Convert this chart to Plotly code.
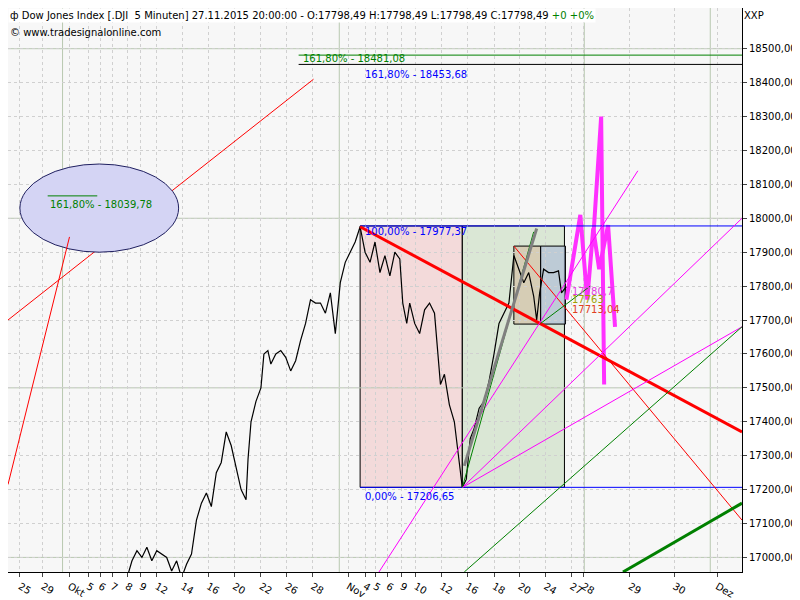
import plotly.graph_objects as go

# x is a bar index (roughly pixel-spaced), y is the index level
price_x = [120, 125, 130, 135, 140, 145, 150, 160, 165, 170, 175, 180, 185, 190, 195, 200, 205, 210, 215, 220,
           225, 230, 235, 240, 242, 245, 250, 255, 258, 262, 265, 270, 275, 280, 285, 290, 295, 300, 305, 310,
           315, 320, 325, 330, 335, 340, 345, 350, 355, 360, 365, 370, 375, 380, 385, 390, 395, 398, 402, 405,
           410, 415, 420, 425, 430, 433, 436, 440, 445, 450, 455, 458, 462, 466, 470, 475, 480, 485, 490, 495,
           500, 505, 510, 515, 520, 525, 530, 533, 536, 540, 545, 550, 555, 558, 562, 565]
price_y = [16940, 16990, 17020, 17000, 17030, 16990, 17020, 17000, 16960, 16990, 16940, 16980, 17010, 17110, 17160, 17190, 17150, 17250, 17280, 17370,
           17330, 17260, 17200, 17170, 17290, 17400, 17460, 17500, 17600, 17610, 17570, 17600, 17610, 17590, 17550, 17580, 17640, 17690, 17760, 17750,
           17750, 17720, 17780, 17660, 17810, 17870, 17900, 17930, 17975, 17900, 17870, 17930, 17840, 17890, 17830, 17900, 17880, 17750, 17690, 17750,
           17690, 17660, 17730, 17750, 17720, 17600, 17510, 17540, 17450, 17400, 17280, 17206, 17230, 17350, 17380, 17440, 17460, 17520, 17600, 17690,
           17720, 17750, 17890, 17850, 17810, 17840, 17770, 17700, 17780, 17850, 17840, 17840, 17845, 17780, 17795, 17798]

proj_x = [563, 570, 577, 584, 590, 596, 605, 612]
proj_y = [17760, 17880, 18010, 17760, 17970, 17850, 17980, 17680]
proj2_x = [590, 598, 601]
proj2_y = [17940, 18300, 17510]

tick_pos = [12, 35, 62, 81, 93, 105, 120, 134, 150, 176, 202, 228, 255, 281, 307, 343, 360, 370, 383, 397, 411,
            437, 463, 490, 516, 542, 568, 580, 627, 672, 715]
tick_txt = ["25", "29", "Okt", "5", "6", "7", "8", "9", "12", "14", "16", "20", "22", "26", "28", "Nov", "4", "5",
            "6", "9", "10", "12", "16", "18", "20", "24", "27", "28", "29", "30", "Dez"]
y_ticks = [17000, 17100, 17200, 17300, 17400, 17500, 17600, 17700, 17800, 17900, 18000, 18100, 18200, 18300, 18400, 18500]

# trend lines: (x0, y0, x1, y1, color, width)
lines = [
    (355, 17975, 740, 17370, "red", 3),
    (510, 17918, 740, 17110, "red", 1),
    (374, 16957, 635, 18140, "magenta", 1),
    (458, 17206, 740, 18000, "magenta", 1),
    (458, 17206, 740, 17680, "magenta", 1),
    (458, 17206, 530, 17960, "green", 1),
    (460, 17270, 533, 17970, "gray", 3),
    (460, 16957, 740, 17680, "green", 1),
    (537, 17690, 587, 17800, "green", 1),
    (620, 16957, 740, 17160, "green", 3),
]

fig = go.Figure()
shapes = []
# fib boxes
shapes.append(dict(type="rect", x0=355, x1=458, y0=17206.65, y1=17977.37, fillcolor="rgba(240,190,190,0.5)", line=dict(color="black", width=1), layer="below"))
shapes.append(dict(type="rect", x0=458, x1=561, y0=17206.65, y1=17977.37, fillcolor="rgba(190,215,180,0.5)", line=dict(color="black", width=1), layer="below"))
shapes.append(dict(type="rect", x0=510, x1=537, y0=17688, y1=17918, fillcolor="rgba(210,180,150,0.5)", line=dict(color="black", width=1), layer="below"))
shapes.append(dict(type="rect", x0=537, x1=562, y0=17688, y1=17918, fillcolor="rgba(170,185,215,0.6)", line=dict(color="black", width=1), layer="below"))
for lv in [17977.37, 17206.65]:
    shapes.append(dict(type="line", x0=355, x1=740, y0=lv, y1=lv, line=dict(color="blue", width=1)))
shapes.append(dict(type="line", x0=293, x1=740, y0=18481.08, y1=18481.08, line=dict(color="green", width=1)))
shapes.append(dict(type="line", x0=293, x1=740, y0=18453.68, y1=18453.68, line=dict(color="black", width=1)))
for lv in [17000, 17500, 18000, 18500]:
    shapes.append(dict(type="line", x0=0, x1=740, y0=lv, y1=lv, line=dict(color="#b8c8b0", width=1), layer="below"))
for xv in [55, 334, 581, 708]:
    shapes.append(dict(type="line", x0=xv, x1=xv, y0=16957, y1=18620, line=dict(color="#b8c8b0", width=1), layer="below"))
# long red line passes behind the ellipse, short one ends inside it
shapes.append(dict(type="line", x0=0, y0=17700, x1=308, y1=18410, line=dict(color="red", width=1)))
shapes.append(dict(type="circle", x0=12, x1=172, y0=17900, y1=18160, fillcolor="#d4d4f4", line=dict(color="#202060", width=1)))
shapes.append(dict(type="line", x0=0, y0=17215, x1=62, y1=17945, line=dict(color="red", width=1)))
shapes.append(dict(type="line", x0=40, x1=90, y0=18066, y1=18066, line=dict(color="green", width=1)))
for x0, y0, x1, y1, c, w in lines:
    shapes.append(dict(type="line", x0=x0, y0=y0, x1=x1, y1=y1, line=dict(color=c, width=w)))

fig.add_trace(go.Scatter(x=price_x, y=price_y, mode="lines", line=dict(color="black", width=1.2)))
fig.add_trace(go.Scatter(x=proj_x, y=proj_y, mode="lines", line=dict(color="#ff30ff", width=4)))
fig.add_trace(go.Scatter(x=proj2_x, y=proj2_y, mode="lines", line=dict(color="#ff30ff", width=4)))

ann = [
    dict(x=358, y=17960, text="100,00% - 17977,37", color="blue"),
    dict(x=358, y=17180, text="0,00% - 17206,65", color="blue"),
    dict(x=295, y=18470, text="161,80% - 18481,08", color="green"),
    dict(x=358, y=18425, text="161,80% - 18453,68", color="blue"),
    dict(x=40, y=18040, text="161,80% - 18039,78", color="green"),
    dict(x=567, y=17785, text="17780,7", color="#e040e0"),
    dict(x=567, y=17760, text="17763", color="#a0a000"),
    dict(x=567, y=17730, text="17713,04", color="#e04020"),
]
annotations = [dict(x=a["x"], y=a["y"], text=a["text"], xanchor="left", yanchor="middle", showarrow=False,
                    font=dict(color=a["color"], size=10)) for a in ann]
annotations.append(dict(xref="paper", yref="paper", x=0.0, y=1.0, xanchor="left", yanchor="top", showarrow=False,
                        align="left", bgcolor="white",
                        text="ф Dow Jones Index [.DJI  5 Minuten] 27.11.2015 20:00:00 - O:17798,49 H:17798,49 L:17798,49 C:17798,49 <span style='color:green'>+0 +0%</span>",
                        font=dict(size=10, color="black")))
annotations.append(dict(xref="paper", yref="paper", x=0.0, y=0.97, xanchor="left", yanchor="top", showarrow=False,
                        text="© www.tradesignalonline.com", font=dict(size=10, color="black")))
annotations.append(dict(xref="paper", yref="paper", x=1.0, y=1.0, xanchor="left", yanchor="top", showarrow=False,
                        text="XXP", font=dict(size=10, color="black")))

fig.update_layout(
    width=792, height=592, showlegend=False,
    margin=dict(l=0, r=58, t=0, b=18),
    paper_bgcolor="white", plot_bgcolor="#f7f7f7",
    font=dict(family="DejaVu Sans", size=10, color="black"),
    shapes=shapes, annotations=annotations,
    xaxis=dict(range=[0, 740], tickvals=tick_pos, ticktext=tick_txt, ticks="outside", ticklen=4,
               showgrid=True, gridcolor="#d0d0d0", griddash="dot", zeroline=False,
               showline=True, linecolor="black", tickfont=dict(size=10)),
    yaxis=dict(range=[16957, 18620], side="right", tickvals=y_ticks,
               ticktext=[f"{v},00" for v in y_ticks], ticks="outside", ticklen=4,
               showgrid=True, gridcolor="#d0d0d0", griddash="dot", zeroline=False,
               showline=True, linecolor="black", tickfont=dict(size=10)),
)
fig.write_html("out.html")
